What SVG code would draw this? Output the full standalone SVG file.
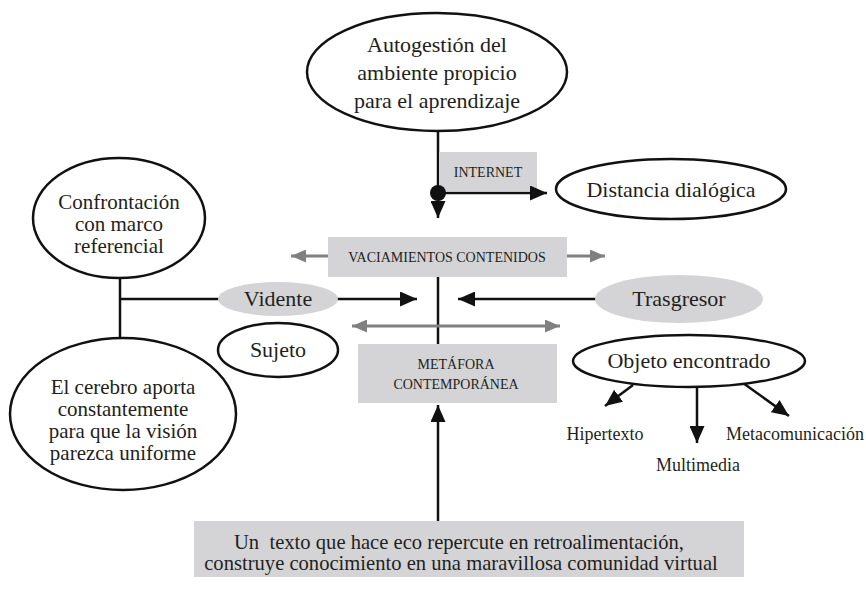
<svg xmlns="http://www.w3.org/2000/svg" width="866" height="589" viewBox="0 0 866 589" font-family="'Liberation Serif', 'DejaVu Serif', serif">
<defs>
<marker id="ab" markerUnits="userSpaceOnUse" markerWidth="17" markerHeight="15" refX="17" refY="7.5" orient="auto"><path d="M0,0 L17,7.5 L0,15 z" fill="#111"/></marker>
<marker id="ag" markerUnits="userSpaceOnUse" markerWidth="15" markerHeight="13" refX="15" refY="6.5" orient="auto"><path d="M0,0 L15,6.5 L0,13 z" fill="#808080"/></marker>
<style>
text{fill:#231f20;text-anchor:middle}
.n{fill:#fff;stroke:#111;stroke-width:2.5}
.g{fill:#d4d4d6;stroke:none}
.c{stroke:#111;stroke-width:2.5;fill:none}
.cg{stroke:#808080;stroke-width:3;fill:none}
.t22{font-size:22px}
.t21{font-size:21px}
.t18{font-size:18px}
.t20{font-size:20.6px;white-space:pre}
.cap{font-size:14px}
</style>
</defs>
<rect width="866" height="589" fill="#fff"/>
<g id="connectors">
<line class="c" x1="438" y1="131" x2="438" y2="193"/>
<rect id="internet-bg" class="g" x="439" y="152" width="98" height="39"/>
<line class="c" x1="438" y1="193" x2="438" y2="218" marker-end="url(#ab)"/>
<line class="c" x1="438" y1="193" x2="547" y2="193" marker-end="url(#ab)"/>
<circle cx="438" cy="193" r="8" fill="#111"/>
<line class="c" x1="438" y1="277" x2="438" y2="344"/>
<line class="c" x1="120" y1="278" x2="120" y2="338"/>
<line class="c" x1="120" y1="299" x2="220" y2="299"/>
<line class="c" x1="336" y1="299" x2="417" y2="299" marker-end="url(#ab)"/>
<line class="c" x1="598" y1="299" x2="458" y2="299" marker-end="url(#ab)"/>
<line class="cg" x1="328" y1="256" x2="291" y2="256" marker-end="url(#ag)"/>
<line class="cg" x1="567" y1="256" x2="605" y2="256" marker-end="url(#ag)"/>
<line class="cg" x1="440" y1="326" x2="352" y2="326" marker-end="url(#ag)"/>
<line class="cg" x1="440" y1="326" x2="560" y2="326" marker-end="url(#ag)"/>
<line class="c" x1="438" y1="521" x2="438" y2="405" marker-end="url(#ab)"/>
<line class="c" x1="633" y1="385" x2="605" y2="406" marker-end="url(#ab)"/>
<line class="c" x1="697" y1="387" x2="697" y2="443" marker-end="url(#ab)"/>
<line class="c" x1="743" y1="383" x2="789" y2="416" marker-end="url(#ab)"/>
</g>
<g id="autogestion">
<ellipse class="n" cx="437" cy="72" rx="130" ry="59"/>
<text class="t22" x="437" y="52">Autogestión del</text>
<text class="t22" x="437" y="80">ambiente propicio</text>
<text class="t22" x="437" y="108">para el aprendizaje</text>
</g>
<g id="internet">
<text class="cap" x="488" y="177">INTERNET</text>
</g>
<g id="distancia">
<ellipse class="n" cx="671" cy="189" rx="115" ry="30"/>
<text class="t22" x="671" y="197">Distancia dialógica</text>
</g>
<g id="confrontacion">
<ellipse class="n" cx="119" cy="218" rx="86" ry="60"/>
<text class="t21" x="119" y="209">Confrontación</text>
<text class="t21" x="119" y="231">con marco</text>
<text class="t21" x="119" y="253">referencial</text>
</g>
<g id="cerebro">
<ellipse class="n" cx="123" cy="414" rx="113" ry="76"/>
<text class="t21" x="123" y="394">El cerebro aporta</text>
<text class="t21" x="123" y="416">constantemente</text>
<text class="t21" x="123" y="438">para que la visión</text>
<text class="t21" x="123" y="460">parezca uniforme</text>
</g>
<g id="vaciamientos">
<rect class="g" x="328" y="237" width="239" height="40"/>
<text class="cap" x="447" y="262">VACIAMIENTOS CONTENIDOS</text>
</g>
<g id="vidente">
<ellipse class="g" cx="278" cy="299" rx="60" ry="17"/>
<text class="t22" x="278" y="306">Vidente</text>
</g>
<g id="trasgresor">
<ellipse class="g" cx="679" cy="299" rx="84" ry="24"/>
<text class="t22" x="679" y="306">Trasgresor</text>
</g>
<g id="sujeto">
<ellipse class="n" cx="278" cy="350" rx="60" ry="27"/>
<text class="t22" x="278" y="357">Sujeto</text>
</g>
<g id="metafora">
<rect class="g" x="358" y="344" width="199" height="59"/>
<text class="cap" x="456" y="369">METÁFORA</text>
<text class="cap" x="456" y="389">CONTEMPORÁNEA</text>
</g>
<g id="objeto">
<ellipse class="n" cx="689" cy="361" rx="116" ry="26"/>
<text class="t22" x="689" y="368">Objeto encontrado</text>
</g>
<g id="hipertexto"><text class="t18" x="605" y="440">Hipertexto</text></g>
<g id="multimedia"><text class="t18" x="698" y="471">Multimedia</text></g>
<g id="metacomunicacion"><text class="t18" x="795" y="440">Metacomunicación</text></g>
<g id="texto-eco">
<rect class="g" x="194" y="521" width="550" height="56"/>
<text class="t20" x="459" y="549">Un  texto que hace eco repercute en retroalimentación,</text>
<text class="t20" x="461" y="570">construye conocimiento en una maravillosa comunidad virtual</text>
</g>
</svg>
